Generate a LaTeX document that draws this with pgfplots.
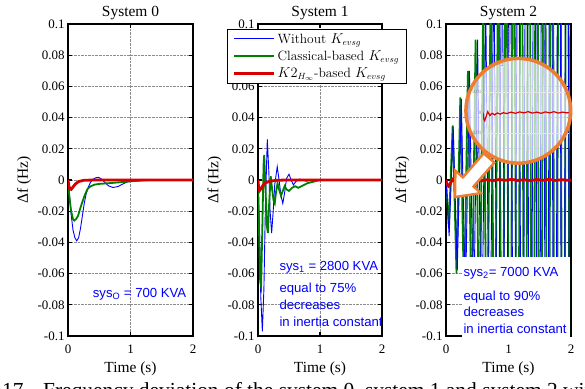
\documentclass[border=0pt]{standalone}
\usepackage{pgfplots}
\usepackage{pgfplotstable}
\pgfplotsset{compat=1.18}
\usepackage{fontspec}
\newfontfamily\tnr{Liberation Serif}
\newfontfamily\ari{Liberation Sans}
\definecolor{cblue}{RGB}{0,0,255}
\definecolor{cgreen}{RGB}{0,128,0}
\definecolor{cred}{RGB}{215,0,0}
\definecolor{corange}{RGB}{237,125,49}

\pgfplotstableread{
t v
0 0
0.02 -0.008
0.05 -0.022
0.08 -0.032
0.11 -0.037
0.14 -0.039
0.17 -0.037
0.20 -0.031
0.23 -0.023
0.26 -0.015
0.29 -0.009
0.32 -0.005
0.36 -0.0015
0.40 0.0005
0.45 0.0015
0.49 0.0017
0.54 0.0005
0.60 -0.002
0.65 -0.0038
0.72 -0.0048
0.80 -0.0042
0.88 -0.0025
0.95 -0.0012
1.05 -0.0008
1.2 -0.0003
1.4 0
2 0
}\blueA
\pgfplotstableread{
t v
0 0
0.02 -0.01
0.05 -0.02
0.08 -0.025
0.10 -0.026
0.13 -0.025
0.16 -0.023
0.19 -0.019
0.23 -0.014
0.27 -0.0095
0.31 -0.006
0.35 -0.0043
0.42 -0.003
0.5 -0.0025
0.7 -0.0019
0.9 -0.0012
1.1 -0.0005
1.3 0
2 0
}\greenA
\pgfplotstableread{
t v
0 0
0.015 -0.004
0.03 -0.0058
0.05 -0.006
0.08 -0.0045
0.12 -0.0025
0.17 -0.001
0.25 -0.0002
0.4 0
2 0
}\redA

\pgfplotstableread{
t v
0 0
0.02 -0.025
0.045 -0.075
0.07 -0.097
0.095 -0.07
0.12 -0.015
0.15 0.026
0.175 0.005
0.195 -0.02
0.22 -0.034
0.245 -0.02
0.27 -0.003
0.31 0.0085
0.34 0.0
0.37 -0.01
0.40 -0.015
0.43 -0.008
0.46 0.001
0.50 0.0037
0.535 0.0
0.57 -0.0032
0.61 -0.001
0.67 0.0006
0.72 0.0
0.78 -0.0008
0.85 0
2 0
}\blueB
\pgfplotstableread{
t v
0 0
0.015 -0.03
0.035 -0.065
0.05 -0.068
0.07 -0.03
0.09 0.01
0.10 0.016
0.12 -0.005
0.145 -0.03
0.16 -0.034
0.18 -0.015
0.205 0.0025
0.225 -0.005
0.25 -0.013
0.27 -0.015
0.29 -0.008
0.315 -0.002
0.34 -0.006
0.37 -0.01
0.40 -0.007
0.43 -0.004
0.46 -0.006
0.50 -0.007
0.55 -0.005
0.6 -0.004
0.65 -0.005
0.7 -0.004
0.8 -0.002
0.9 -0.001
1.0 0
2 0
}\greenB
\pgfplotstableread{
t v
0 0
0.01 -0.005
0.025 -0.0068
0.04 -0.006
0.07 -0.004
0.1 -0.0025
0.15 -0.0013
0.2 -0.0007
0.3 -0.0002
0.45 0
2 0
}\redB

\pgfplotstableread{
t v
0 0
0.045 -0.030
0.107 0.035
0.168 -0.060
0.229 0.053
0.290 -0.080
0.351 0.070
0.412 -0.100
0.473 0.090
0.534 -0.125
0.595 0.115
0.656 -0.15
0.717 0.145
0.778 -0.18
0.839 0.18
0.900 -0.22
0.961 0.22
1.022 -0.26
1.083 0.26
1.144 -0.30
1.205 0.30
1.266 -0.34
1.327 0.34
1.388 -0.38
1.449 0.38
1.510 -0.42
1.571 0.42
1.632 -0.46
1.693 0.46
1.754 -0.50
1.815 0.50
1.876 -0.54
1.937 0.54
1.998 -0.58
}\greenC
\pgfplotstableread{
t v
0 0
0.050 -0.036
0.115 0.034
0.180 -0.058
0.245 0.052
0.310 -0.08
0.375 0.07
0.440 -0.10
0.505 0.09
0.570 -0.125
0.635 0.115
0.700 -0.15
0.765 0.145
0.830 -0.18
0.895 0.18
0.960 -0.22
1.025 0.22
1.090 -0.26
1.155 0.26
1.220 -0.30
1.285 0.30
1.350 -0.34
1.415 0.34
1.480 -0.38
1.545 0.38
1.610 -0.42
1.675 0.42
1.740 -0.46
1.805 0.46
1.870 -0.50
1.935 0.50
2.000 -0.54
}\blueC
\pgfplotstableread{
t v
0 0
0.015 -0.003
0.04 -0.004
0.07 -0.002
0.11 0.0004
0.16 -0.0015
0.21 -0.0003
0.27 -0.0012
0.33 -0.0002
0.40 -0.0008
0.47 -0.0001
0.55 -0.0005
0.65 0.0002
0.75 -0.0004
0.85 0.0003
0.95 -0.0002
1.05 0.0004
1.15 -0.0003
1.25 0.0002
1.35 -0.0004
1.45 0.0003
1.55 -0.0002
1.65 0.0004
1.75 -0.0003
1.85 0.0002
1.95 -0.0002
2.0 0
}\redC

\pgfplotsset{
  panel/.style={
    scale only axis, height=312bp,
    xmin=0, xmax=2, ymin=-0.1, ymax=0.1,
    xtick={0,1,2}, xticklabels={0,1,2},
    ytick={-0.1,-0.08,-0.06,-0.04,-0.02,0,0.02,0.04,0.06,0.08,0.1},
    yticklabels={-0.1,-0.08,-0.06,-0.04,-0.02,0,0.02,0.04,0.06,0.08,0.1},
    grid=major, grid style={densely dotted, black!45, line width=0.8bp},
    axis line style={line width=1.2bp},
    tick style={black, line width=1.1bp},
    major tick length=4bp, tick align=inside,
    ticklabel style={font=\tnr\fontsize{13}{13}\selectfont},
    xticklabel style={yshift=-5bp},
    title style={at={(axis description cs:0.5,1)}, anchor=base, yshift=1.3bp, font=\tnr\fontsize{15.5}{16}\selectfont},
    xlabel={Time (s)},
    xlabel style={at={(axis description cs:0.5,0)}, anchor=base, yshift=-36.7bp, font=\tnr\fontsize{15.5}{16}\selectfont},
    ylabel={Δf (Hz)},
    every axis y label/.style={at={(axis description cs:-0.32,0.5)}, rotate=90, anchor=base, font=\tnr\fontsize{15.5}{16}\selectfont},
  },
  bl/.style={cblue, line width=0.9bp},
  gr/.style={cgreen, line width=1.8bp},
  rd/.style={cred, line width=2.8bp},
}

\begin{document}
\begin{tikzpicture}[x=1bp,y=1bp]
\useasboundingbox (0,0) rectangle (585,388);

% Panel 0
\begin{axis}[panel, width=125bp, at={(68bp,52bp)}, anchor=south west, title={System 0}]
\addplot[bl] table {\blueA};
\addplot[gr] table {\greenA};
\addplot[rd] table {\redA};
\end{axis}

% Panel 1
\begin{axis}[panel, width=124bp, at={(258bp,52bp)}, anchor=south west, title={System 1},
  legend style={at={(axis description cs:-0.25,0.984)}, anchor=north west, draw=black, line width=0.6bp, fill=white,
    font=\fontsize{13.5}{13.5}\selectfont, inner xsep=5.5bp, inner ysep=2bp, row sep=2bp,
    /tikz/every even column/.append style={column sep=4bp}},
  legend cell align=left,
  legend image code/.code={\draw[#1] (0bp,0bp) -- (40bp,0bp);}]
\addplot[bl] table {\blueB};
\addlegendentry{Without $K_{evsg}$}
\addplot[gr] table {\greenB};
\addlegendentry{Classical-based $K_{evsg}$}
\addplot[rd] table {\redB};
\addlegendentry{$K2_{H_\infty}$-based $K_{evsg}$}
\end{axis}

% Panel 2
\begin{axis}[panel, width=125bp, at={(446bp,52bp)}, anchor=south west, title={System 2}]
\addplot[gr] table {\greenC};
\addplot[bl] table {\blueC};
\addplot[rd] table {\redC};
\end{axis}

% white box panel 2
\fill[white] (462,50.5) rectangle (570.3,131.3);

% annotations
\begin{scope}[every node/.style={anchor=base west, inner sep=0, text=cblue, font=\ari\fontsize{13.2}{14}\selectfont}]
\node at (92.7,91) {sys\textsubscript{O} = 700 KVA};
\node at (279.3,118) {sys\textsubscript{1} = 2800 KVA};
\node at (279.3,95.3) {equal to 75\%};
\node at (279.3,78.7) {decreases};
\node at (279.3,61.3) {in inertia constant};
\node at (463.3,112) {sys\textsubscript{2}= 7000 KVA};
\node at (463.3,88) {equal to 90\%};
\node at (463.3,71.3) {decreases};
\node at (463.3,54.7) {in inertia constant};
\end{scope}

% magnifier
\fill[white, opacity=0.7] (518.3,277.2) circle (52.4);
\begin{axis}[at={(483bp,234.5bp)}, anchor=south west, scale only axis, width=86bp, height=82bp,
  xmin=0, xmax=2, ymin=-0.02, ymax=0.02,
  axis x line=none, axis y line*=left,
  y axis line style={gray!70, line width=0.5bp},
  ytick={-0.01,0,0.01}, yticklabels={-0.01,0,0.01},
  yticklabel style={font=\tnr\fontsize{5}{5}\selectfont, text=gray, inner sep=1.5bp},
  major tick length=0pt, ymajorgrids, grid style={gray!20, line width=0.4bp}]
\addplot[cred, line width=1.2bp] table {\redC};
\end{axis}

% arrow
\draw[corange, line width=2.4bp, fill=white, line join=miter]
  (494.3,225.4) -- (473.5,201.5) -- (481.0,194.9) -- (455,191) -- (455.4,217.3) -- (462.9,210.7) -- (483.7,234.6) -- cycle;
\draw[corange, line width=3.5bp] (518.3,277.2) circle (52.4);

% caption (cut off at the bottom of the picture)
\node[anchor=base west, inner sep=0, font=\tnr\fontsize{21.5}{22}\selectfont] at (2,-9) {17.};
\node[anchor=base west, inner sep=0, font=\tnr\fontsize{21.5}{22}\selectfont] at (43,-9) {Frequency deviation of the system 0, system 1 and system 2 with};
\end{tikzpicture}
\end{document}
